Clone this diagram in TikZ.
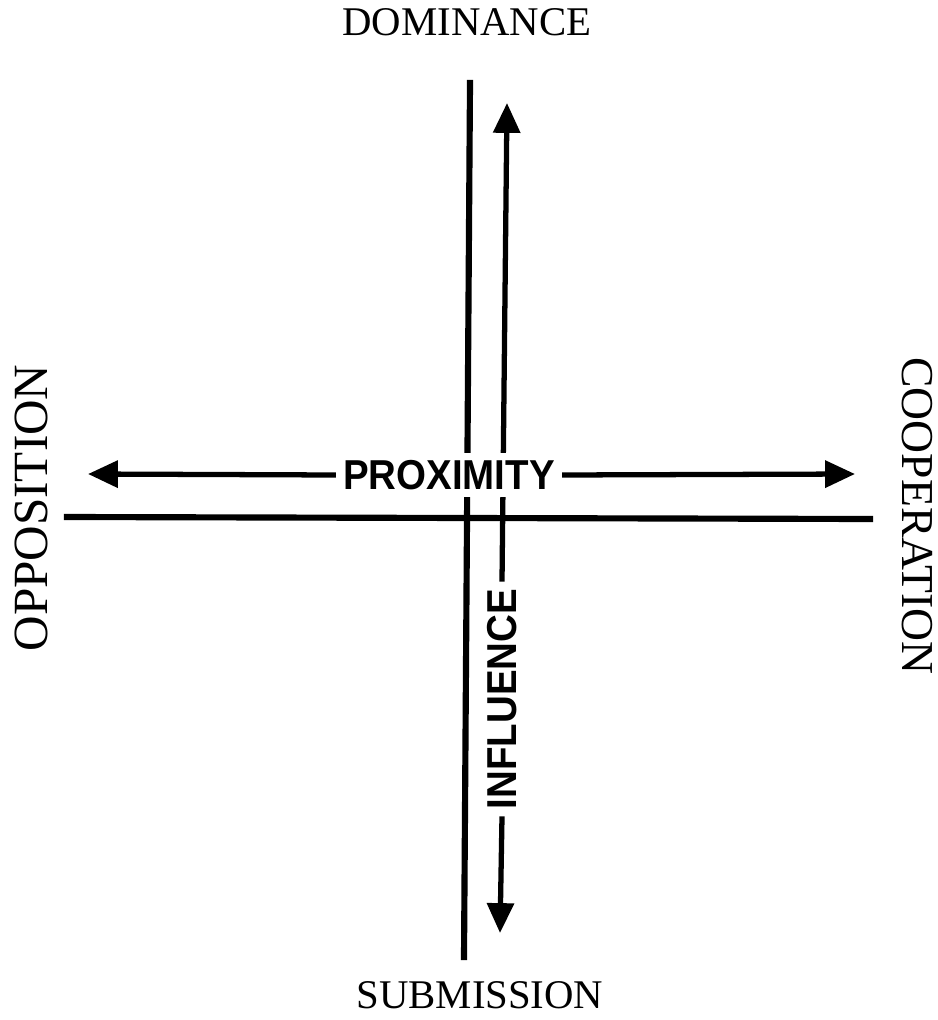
\documentclass[tikz,border=0pt]{standalone}
\usepackage{fontspec}
\usepackage{graphicx}
\usepackage{tikz}
\usetikzlibrary{arrows.meta, positioning, calc}
\setmainfont{Liberation Serif}
\newfontfamily\dimfont{Liberation Sans}
\newcommand{\dimtext}[1]{\scalebox{0.92}[1]{\textbf{#1}}}
\tikzset{
  pole/.style={font=\fontsize{23.2}{26}\selectfont, inner sep=0pt},
  dimension/.style={font=\dimfont\fontsize{23.8}{26}\selectfont, inner ysep=4pt, inner xsep=4pt},
  axis/.style={line width=3.5pt, line cap=rect},
  arrow/.style={-{Triangle[length=17pt, width=15pt]}, line width=3pt},
}

\begin{document}
\begin{tikzpicture}[x=0.02cm, y=-0.02cm]
\useasboundingbox (0,0) rectangle (937,1020);
% poles
\node (dom)  [pole] at (467,22)  {DOMINANCE};
\node (sub)  [pole] at (480,995) {SUBMISSION};
\node (opp)  [pole, rotate=90, font=\fontsize{28}{30}\selectfont]  at (31,508)  {OPPOSITION};
\node (coop) [pole, rotate=-90, font=\fontsize{26}{28}\selectfont] at (917,516) {COOPERATION};
% axes
\coordinate (axtop) at (470,83);
\coordinate (axbot) at (464,957);
\coordinate (axleft) at (67,517);
\coordinate (axright) at (870,519);
\draw[axis] (axtop) -- (axbot);
\draw[axis] (axleft) -- (axright);
% influence, vertical
\node (infl) [dimension, rotate=90, inner ysep=0pt] at (502,699) {\dimtext{INFLUENCE}};
\coordinate (infltop) at (507,103);
\coordinate (inflbot) at (500,933);
\draw[arrow] (infl.east) -- (infltop);
\draw[arrow] (infl.west) -- (inflbot);
% proximity, horizontal (covers the vertical lines)
\node (prox) [dimension, fill=white] at (449,475) {\dimtext{PROXIMITY}};
\coordinate (proxleft)  at (88,474);
\coordinate (proxright) at (855,474);
\draw[arrow] (prox.west) -- (proxleft);
\draw[arrow] (prox.east) -- (proxright);
\end{tikzpicture}
\end{document}
